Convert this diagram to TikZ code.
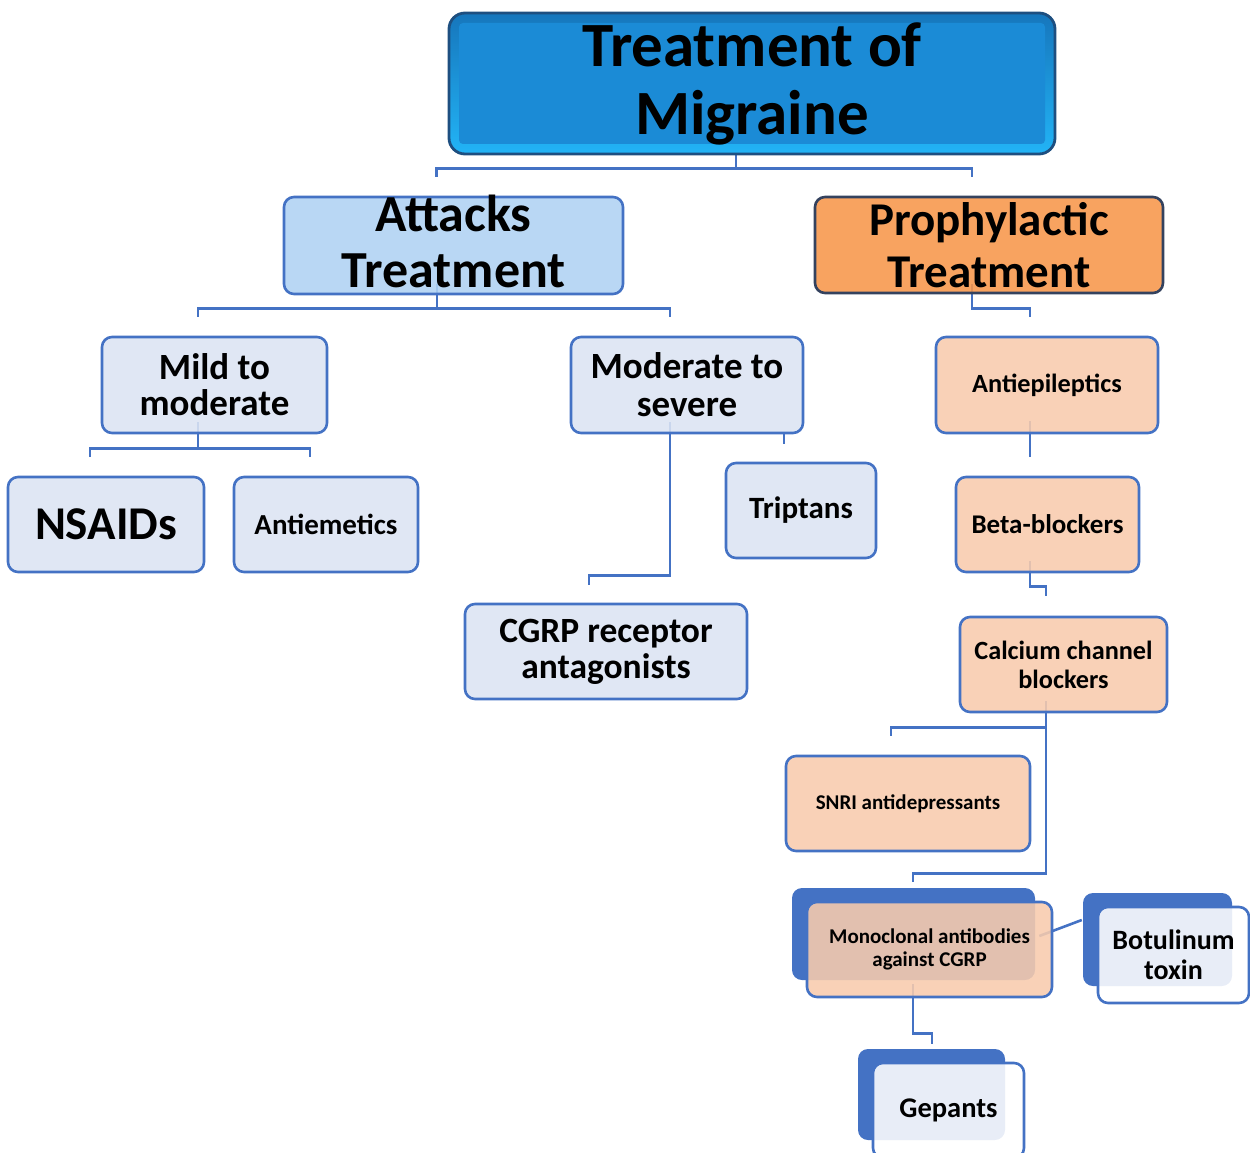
\documentclass[tikz,border=0pt]{standalone}
\usepackage{fontspec}
\setmainfont{Carlito}
\usetikzlibrary{calc}
\usetikzlibrary{backgrounds}

\definecolor{linkblue}{HTML}{4472C4}
\definecolor{lightfill}{HTML}{DCE4F3}
\definecolor{attfill}{HTML}{AFD2F3}
\definecolor{peach}{HTML}{F8CBAD}
\definecolor{prophfill}{HTML}{F7964A}
\definecolor{prophedge}{HTML}{34425E}
\definecolor{topdark}{HTML}{1676BC}
\definecolor{toplight}{HTML}{22B4F6}
\definecolor{topface}{HTML}{1B8BD6}
\definecolor{topedge}{HTML}{1E4F80}

\begin{document}
\begin{tikzpicture}[x=1pt,y=-1pt,
        box/.style={draw=linkblue, line width=2.6pt, rounded corners=10pt, inner sep=0pt,
            align=center, fill opacity=0.88, text opacity=1},
        dims/.style 2 args={minimum width=#1pt, minimum height=#2pt},
        fs/.style 2 args={font=\bfseries\fontsize{#1}{#2}\selectfont},
        lightbox/.style={box, fill=lightfill},
        peachbox/.style={box, fill=peach},
        frontbox/.style={box, fill=white},
        shadowbox/.style={fill=linkblue, rounded corners=10pt, inner sep=0pt},
        link/.style={draw=linkblue, line width=2.6pt}]
    \useasboundingbox (0,0) rectangle (1250,1153);

    % top of the tree
    \node[dims={606}{141}, rounded corners=16pt, draw=topedge, line width=2.8pt,
        top color=topdark, bottom color=toplight] (top) at (752,83.5) {};
    \node[dims={586}{121}, rounded corners=4pt, fill=topface] (topf) at (top) {};
    \node[fs={63}{68}, align=center] (toptext) at (top) {Treatment of\\Migraine};

    % second level
    \node[box, fill=attfill, dims={339}{97}] (att) at (453.5,245.5) {};
    \node[fs={52}{56}, align=center] (atttext) at ([yshift=4pt]att.center) {Attacks\\Treatment};
    \node[box, fill=prophfill, draw=prophedge, dims={348}{96}] (proph) at (989,245) {};
    \node[fs={47}{52}, align=center] (prophtext) at (proph) {Prophylactic\\Treatment};

    % attacks branch
    \node[lightbox, dims={225}{96}, fs={37}{36}] (mild) at (214.5,385) {Mild to\\moderate};
    \node[lightbox, dims={232}{96}, fs={37}{38}] (modsev) at (687,385) {Moderate to\\severe};
    \node[lightbox, dims={196}{95}, fs={47}{50}] (nsaid) at (106,524.5) {NSAIDs};
    \node[lightbox, dims={184}{95}, fs={29}{30}] (antiem) at (326,524.5) {Antiemetics};
    \node[lightbox, dims={150}{95}, fs={31}{32}] (trip) at (801,510.5) {Triptans};
    \node[lightbox, dims={282}{95}, fs={35.5}{36}] (cgrp) at (606,651.5) {CGRP receptor\\antagonists};

    % prophylactic branch
    \node[peachbox, dims={222}{96}, fs={26.3}{28}] (antiep) at (1047,385) {Antiepileptics};
    \node[peachbox, dims={183}{95}, fs={27}{29}] (beta) at (1047.5,524.5) {Beta-blockers};
    \node[peachbox, dims={207}{95}, fs={26.3}{29}] (calc) at (1063.5,664.5) {Calcium channel\\blockers};
    \node[peachbox, dims={244}{95}, fs={21}{22}] (snri) at (908,803.5) {SNRI antidepressants};
    \node[shadowbox, dims={243}{92}] (monosh) at (913.5,934) {};
    \node[peachbox, dims={245}{95}, fs={21}{22.5}] (mono) at (929.5,949.5) {Monoclonal antibodies\\against CGRP};
    \node[shadowbox, dims={149}{93}] (botsh) at (1157.5,939.5) {};
    \node[frontbox, dims={151}{96}, fs={28}{30}] (bot) at (1173.5,955) {Botulinum\\toxin};
    \node[shadowbox, dims={147}{91}] (gepsh) at (931.5,1094.5) {};
    \node[frontbox, dims={151}{95}, fs={28.5}{30}] (gep) at (948.5,1110.5) {Gepants};

    % connectors
    \begin{scope}[on background layer]
        \draw[link] ([xshift=-16pt,yshift=6pt]top.south) -- ++(0,19) coordinate (topj)
            -| ([xshift=-17pt,yshift=19pt]att.north);
        \draw[link] (topj) -| ([xshift=-17pt,yshift=19pt]proph.north);
        \draw[link] ([xshift=-16.5pt,yshift=11pt]att.south) -- ++(0,24) coordinate (attj)
            -| ([xshift=-16.5pt,yshift=19pt]mild.north);
        \draw[link] (attj) -| ([xshift=-17pt,yshift=19pt]modsev.north);
        \draw[link] ([xshift=-17pt,yshift=10pt]proph.south) -- ++(0,24)
            -| ([xshift=-17pt,yshift=19pt]antiep.north);
        \draw[link] ([xshift=-16.5pt,yshift=12pt]mild.south) -- ++(0,26) coordinate (mildj)
            -| ([xshift=-16pt,yshift=19pt]nsaid.north);
        \draw[link] (mildj) -| ([xshift=-16pt,yshift=19pt]antiem.north);
        \draw[link] ([xshift=97pt]modsev.south) -- ([xshift=-17pt,yshift=18pt]trip.north);
        \draw[link] ([xshift=-17pt,yshift=12pt]modsev.south) -- ++(0,153)
            -| ([xshift=-17pt,yshift=18pt]cgrp.north);
        \draw[link] ([xshift=-17pt,yshift=13pt]antiep.south) -- ([xshift=-17.5pt,yshift=19pt]beta.north);
        \draw[link] ([xshift=-17.5pt,yshift=12pt]beta.south) -- ++(0,25)
            -| ([xshift=-17.5pt,yshift=20pt]calc.north);
        \draw[link] ([xshift=-17.5pt,yshift=12pt]calc.south) -- ++(0,26) coordinate (calcj)
            -| ([xshift=-17pt,yshift=19pt]snri.north);
        \draw[link] (calcj) -- ++(0,146) -| ([xshift=-16.5pt,yshift=19pt]mono.north);
        \draw[link] ([xshift=-16.5pt,yshift=14pt]mono.south) -- ++(0,49)
            -| ([xshift=-16.5pt,yshift=18pt]gep.north);
        \draw[link] ([xshift=-14pt,yshift=13.5pt]mono.east) -- ([xshift=-1pt,yshift=19.5pt]botsh.west);
    \end{scope}
\end{tikzpicture}
\end{document}
